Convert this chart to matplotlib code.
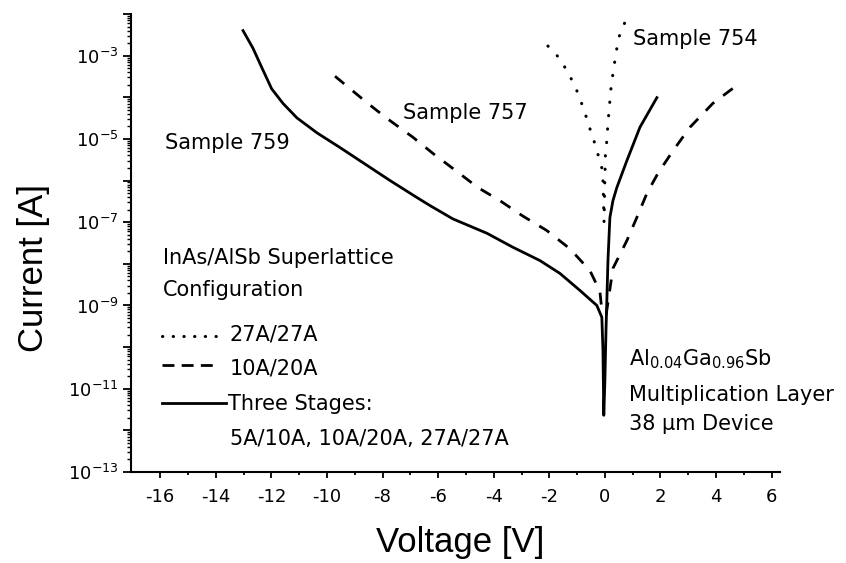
#!/usr/bin/env python3
"""I-V curves of three InAs/AlSb superlattice APD samples (log current vs voltage)."""
import matplotlib.pyplot as plt
from matplotlib.lines import Line2D
from matplotlib.ticker import FixedLocator, LogLocator, NullFormatter

plt.rcParams['font.family'] = ['DejaVu Sans']
plt.rcParams['axes.unicode_minus'] = False
plt.rcParams['mathtext.fontset'] = 'dejavusans'

# Sample 759 - three stages (solid)
V_759 = [-13.02, -12.66, -12.34, -11.99, -11.58, -11.08, -10.36, -9.53, -8.71, -7.73,
         -6.76, -6.29, -5.47, -4.24, -3.31, -2.34, -1.62, -0.90, -0.29, -0.11,
         -0.07, -0.04, 0.00, 0.04, 0.07, 0.11, 0.18, 0.29, 0.43, 0.79, 1.26, 1.87]
I_759 = [4.0e-3, 1.5e-3, 5.1e-4, 1.6e-4, 7.1e-5, 3.2e-5, 1.4e-5, 6.2e-6, 2.7e-6, 1.0e-6,
         3.9e-7, 2.5e-7, 1.2e-7, 5.4e-8, 2.5e-8, 1.2e-8, 5.9e-9, 2.3e-9, 1.0e-9, 5.2e-10,
         8.5e-11, 2.3e-12, 1.6e-11, 2.6e-10, 1.3e-9, 1.2e-8, 1.3e-7, 3.3e-7, 6.8e-7, 3.0e-6,
         1.9e-5, 9.8e-5]

# Sample 757 - 10A/20A (dashed)
V_757 = [-9.71, -8.56, -7.84, -6.91, -6.19, -5.40, -4.57, -3.78, -2.95, -2.09, -1.26,
         -0.54, -0.18, -0.11, 0.05, 0.29, 0.79, 1.15, 1.51, 1.91, 2.45, 3.06, 3.88, 4.86]
I_757 = [3.2e-4, 7.4e-5, 3.1e-5, 1.1e-5, 4.5e-6, 1.8e-6, 6.8e-7, 3.3e-7, 1.4e-7, 6.3e-8,
         2.3e-8, 6.9e-9, 2.2e-9, 7.6e-10, 6.3e-10, 7.8e-9, 3.6e-8, 1.3e-7, 4.9e-7, 1.5e-6,
         5.2e-6, 1.9e-5, 7.1e-5, 2.2e-4]

# Sample 754 - 27A/27A (dotted)
V_754 = [-2.05, -1.62, -1.33, -1.08, -0.90, -0.72, -0.58, -0.43, -0.29, -0.18, -0.11,
         -0.07, -0.05, -0.03, -0.01, 0.02, 0.07, 0.10, 0.14, 0.18, 0.22, 0.29, 0.36, 0.43,
         0.54, 0.76]
I_754 = [1.7e-3, 8.5e-4, 3.9e-4, 1.9e-4, 9.3e-5, 4.3e-5, 2.1e-5, 1.1e-5, 5.2e-6, 3.0e-6,
         2.0e-6, 1.0e-6, 3.3e-7, 1.0e-7, 6.3e-7, 4.5e-6, 9.1e-6, 1.9e-5, 4.1e-5, 8.3e-5,
         1.7e-4, 3.7e-4, 7.6e-4, 1.5e-3, 3.4e-3, 7.2e-3]

X_TICKS = [-16, -14, -12, -10, -8, -6, -4, -2, 0, 2, 4, 6]
X_TICK_LABELS = ['-16', '-14', '-12', '-10', '-8', '-6', '-4', '-2', '0', '2', '4', '6']
Y_TICKS = [1e-13, 1e-12, 1e-11, 1e-10, 1e-9, 1e-8, 1e-7, 1e-6, 1e-5, 1e-4, 1e-3, 1e-2]
Y_TICK_LABELS = [r'$10^{-13}$', '', r'$10^{-11}$', '', r'$10^{-9}$', '', r'$10^{-7}$', '',
                 r'$10^{-5}$', '', r'$10^{-3}$', '']

DASHED = (0, (4.3, 4.0))
DOTTED = (0, (0.1, 4.3))

fig = plt.figure(figsize=(8.46, 5.63), dpi=100)
ax = fig.add_axes([131 / 846, 1 - 472 / 563, 649 / 846, 458 / 563])

ax.plot(V_759, I_759, color='black', lw=2.0, solid_joinstyle='round')
ax.plot(V_757, I_757, color='black', lw=2.0, linestyle=DASHED)
ax.plot(V_754, I_754, color='black', lw=2.2, linestyle=DOTTED, dash_capstyle='round')

ax.set_yscale('log')
ax.set_xlim(-17.05, 6.3)
ax.set_ylim(1e-13, 1e-2)

ax.spines['top'].set_visible(False)
ax.spines['right'].set_visible(False)
for side in ('left', 'bottom'):
    ax.spines[side].set_linewidth(1.5)

ax.xaxis.set_major_locator(FixedLocator(X_TICKS))
ax.set_xticklabels(X_TICK_LABELS)
ax.xaxis.set_minor_locator(FixedLocator([t + 1 for t in X_TICKS]))
ax.yaxis.set_major_locator(FixedLocator(Y_TICKS))
ax.set_yticklabels(Y_TICK_LABELS)
ax.yaxis.set_minor_locator(LogLocator(base=10, subs=range(2, 10), numticks=30))
ax.yaxis.set_minor_formatter(NullFormatter())

ax.tick_params(axis='x', which='major', direction='out', length=4.3, width=1.3,
               labelsize=13, pad=7)
ax.tick_params(axis='x', which='minor', direction='out', length=2.5, width=1.3)
ax.tick_params(axis='y', which='major', direction='out', length=5.8, width=1.3,
               labelsize=13, pad=3)
ax.tick_params(axis='y', which='minor', direction='out', length=2.9, width=1.0)

fs = 15
ax.text(-15.83, 5.6e-6, 'Sample 759', fontsize=fs, va='baseline')
ax.text(-7.27, 2.95e-5, 'Sample 757', fontsize=fs, va='baseline')
ax.text(1.01, 1.8e-3, 'Sample 754', fontsize=fs, va='baseline')
ax.text(0.86, 3.7e-11, r'Al$_{\mathregular{0.04}}$Ga$_{\mathregular{0.96}}$Sb',
        fontsize=fs, va='baseline')
ax.text(0.86, 5.0e-12, 'Multiplication Layer', fontsize=fs, va='baseline')
ax.text(0.86, 1.0e-12, '38 \u00b5m Device', fontsize=fs, va='baseline')

# hand-built legend block
tr = ax.transAxes
ax.text(0.049, 0.454, 'InAs/AlSb Superlattice', fontsize=fs, va='baseline', transform=tr)
ax.text(0.049, 0.384, 'Configuration', fontsize=fs, va='baseline', transform=tr)
ax.add_line(Line2D([0.048, 0.1325], [0.297, 0.297], transform=tr, color='black',
                   lw=2.2, linestyle=(0, (0.1, 3.4)), dash_capstyle='round'))
ax.text(0.1525, 0.288, '27A/27A', fontsize=fs, va='baseline', transform=tr)
ax.add_line(Line2D([0.048, 0.1325], [0.234, 0.234], transform=tr, color='black',
                   lw=2.0, linestyle=(0, (4.3, 2.6))))
ax.text(0.1525, 0.212, '10A/20A', fontsize=fs, va='baseline', transform=tr)
ax.add_line(Line2D([0.048, 0.1464], [0.151, 0.151], transform=tr, color='black', lw=2.0))
ax.text(0.1495, 0.1354, 'Three Stages:', fontsize=fs, va='baseline', transform=tr)
ax.text(0.1525, 0.059, '5A/10A, 10A/20A, 27A/27A', fontsize=fs, va='baseline', transform=tr)

fig.text(460 / 846, 1 - 552 / 563, 'Voltage [V]', fontsize=25, family='Liberation Sans',
         ha='center', va='baseline')
fig.text(43 / 846, 1 - 268 / 563, 'Current [A]', fontsize=25, family='Liberation Sans',
         rotation=90, rotation_mode='anchor', ha='center', va='baseline')

fig.savefig('out.png', dpi=100)
